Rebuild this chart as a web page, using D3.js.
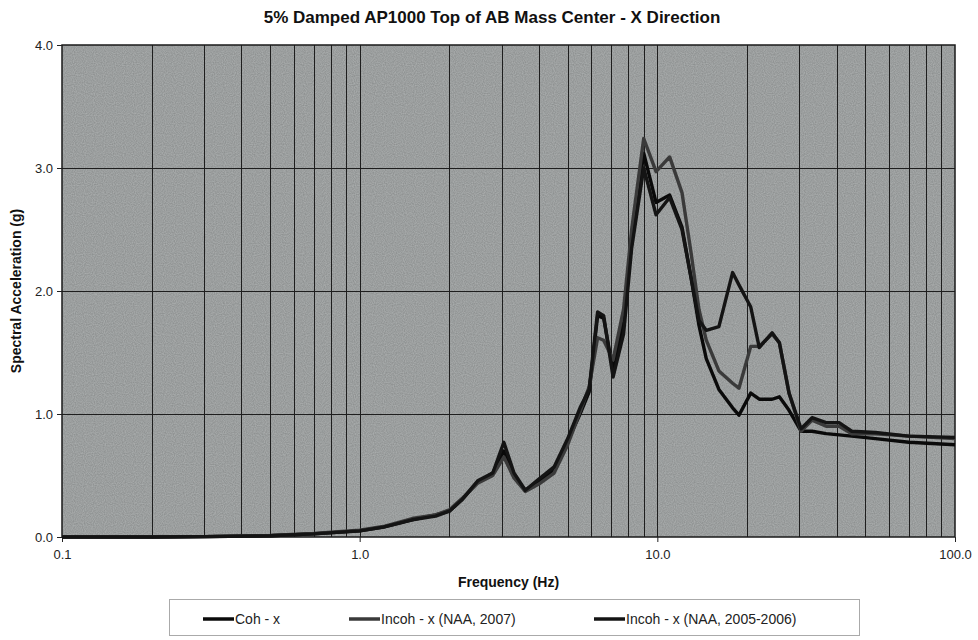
<!DOCTYPE html>
<html>
<head>
<meta charset="utf-8">
<script src="https://cdn.jsdelivr.net/npm/d3@7"></script>
<style>
    body { margin: 0; background: #ffffff; }
    svg { display: block; font-family: Arial, "Liberation Sans", sans-serif; }
    .axis path { display: none; }
    .axis line { stroke: #222; }
    .axis text { fill: #222; font-size: 13px; }
</style>
</head>
<body>
<div id="chart"></div>
<script>
// Frequencies (Hz) shared by the three spectra
var frequencies = [0.1, 0.2, 0.3, 0.5, 0.7, 1.0, 1.2, 1.5, 1.8, 2.0, 2.2, 2.5, 2.8, 3.05, 3.3, 3.6, 4.0, 4.5, 5.0, 5.5, 5.9,
    6.3, 6.6, 7.1, 7.7, 8.2, 9.0, 9.9, 11.0, 12.1, 13.0, 13.8, 14.6, 16.1, 17.9, 18.8, 20.6, 22.0, 24.3, 25.7, 27.7,
    30.4, 33.1, 36.9, 40.8, 45, 54, 70, 100];

// Spectral acceleration (g)
var cohX = [0, 0, 0.003, 0.01, 0.025, 0.05, 0.08, 0.14, 0.18, 0.21, 0.30, 0.45, 0.52, 0.70, 0.50, 0.38, 0.45, 0.55, 0.78, 1.0, 1.18,
    1.80, 1.78, 1.35, 1.75, 2.40, 3.12, 2.72, 2.78, 2.52, 2.10, 1.72, 1.45, 1.20, 1.05, 0.99, 1.17, 1.12, 1.12, 1.14, 1.03,
    0.86, 0.86, 0.84, 0.83, 0.82, 0.80, 0.77, 0.75];
var incohNaa2007 = [0, 0, 0.003, 0.012, 0.028, 0.055, 0.085, 0.15, 0.18, 0.22, 0.31, 0.44, 0.50, 0.65, 0.48, 0.37, 0.43, 0.52, 0.75, 1.02, 1.22,
    1.62, 1.60, 1.44, 1.85, 2.50, 3.24, 2.97, 3.09, 2.80, 2.30, 1.85, 1.60, 1.35, 1.25, 1.21, 1.55, 1.55, 1.65, 1.58, 1.17,
    0.86, 0.95, 0.90, 0.90, 0.84, 0.84, 0.82, 0.80];
var incohNaa2005 = [0, 0, 0.003, 0.01, 0.025, 0.05, 0.08, 0.14, 0.17, 0.21, 0.30, 0.46, 0.52, 0.77, 0.52, 0.38, 0.47, 0.57, 0.80, 1.05, 1.20,
    1.83, 1.80, 1.30, 1.65, 2.35, 3.00, 2.62, 2.76, 2.50, 2.10, 1.76, 1.68, 1.71, 2.15, 2.05, 1.87, 1.54, 1.66, 1.58, 1.17,
    0.88, 0.97, 0.93, 0.93, 0.86, 0.85, 0.82, 0.81];

var seriesNames = ["Coh - x", "Incoh - x (NAA, 2007)", "Incoh - x (NAA, 2005-2006)"];
var seriesValues = [cohX, incohNaa2007, incohNaa2005];
var seriesColors = ["#0a0a0a", "#3a3a3a", "#141414"];

var xTickValues = [0.1, 1, 10, 100];
var yTickValues = [0, 1, 2, 3, 4];

var width = 978, height = 640;
var margin = {top: 45, right: 23, bottom: 103, left: 62};

var svg = d3.select("#chart").append("svg")
    .attr("width", width)
    .attr("height", height);

// grainy scan texture for the plot area
var defs = svg.append("defs");
var grain = defs.append("filter").attr("id", "grain")
    .attr("x", 0).attr("y", 0).attr("width", 1).attr("height", 1);
grain.append("feTurbulence")
    .attr("type", "fractalNoise").attr("baseFrequency", 0.9)
    .attr("numOctaves", 1).attr("seed", 3).attr("result", "noise");
grain.append("feColorMatrix").attr("in", "noise").attr("type", "matrix")
    .attr("values", "0 0 0 0 0.5  0 0 0 0 0.52  0 0 0 0 0.52  0 0 0 1.4 -0.3")
    .attr("result", "tinted");
grain.append("feComposite").attr("in", "tinted").attr("in2", "SourceGraphic").attr("operator", "in");

var xScale = d3.scaleLog().domain([0.1, 100]).range([margin.left, width - margin.right]);
var yScale = d3.scaleLinear().domain([0, 4]).range([height - margin.bottom, margin.top]);

// plot background
var plotX = xScale(0.1), plotY = yScale(4);
var plotW = xScale(100) - xScale(0.1), plotH = yScale(0) - yScale(4);
svg.append("rect")
    .attr("x", plotX).attr("y", plotY)
    .attr("width", plotW).attr("height", plotH)
    .attr("fill", "#8f9292");
svg.append("rect")
    .attr("x", plotX).attr("y", plotY)
    .attr("width", plotW).attr("height", plotH)
    .attr("fill", "#8f9292")
    .attr("opacity", 0.7)
    .attr("filter", "url(#grain)");

// grid: every 1..9 per decade vertically, every 1.0 horizontally
var minorTicks = [];
d3.range(-1, 2).forEach(function (p) {
    d3.range(1, 10).forEach(function (m) {
        minorTicks.push(m * Math.pow(10, p));
    });
});
svg.append("g").selectAll("line").data(minorTicks.filter(function (d) { return d > 0.1; }))
    .enter().append("line")
    .attr("x1", function (d) { return Math.round(xScale(d)) + 0.5; })
    .attr("x2", function (d) { return Math.round(xScale(d)) + 0.5; })
    .attr("y1", yScale(4))
    .attr("y2", yScale(0))
    .attr("stroke", "#1e1e1e")
    .attr("stroke-width", 1);
svg.append("g").selectAll("line").data([1, 2, 3])
    .enter().append("line")
    .attr("x1", xScale(0.1))
    .attr("x2", xScale(100))
    .attr("y1", function (d) { return Math.round(yScale(d)) + 0.5; })
    .attr("y2", function (d) { return Math.round(yScale(d)) + 0.5; })
    .attr("stroke", "#1e1e1e")
    .attr("stroke-width", 1);

// plot border
svg.append("rect")
    .attr("x", plotX).attr("y", plotY)
    .attr("width", plotW).attr("height", plotH)
    .attr("fill", "none")
    .attr("stroke", "#1a1a1a")
    .attr("stroke-width", 1.5);

// axes
var xAxis = d3.axisBottom(xScale).tickValues(xTickValues).tickSize(5).tickPadding(8)
    .tickFormat(d3.format(".1f"));
var yAxis = d3.axisLeft(yScale).tickValues(yTickValues).tickSize(5).tickPadding(4)
    .tickFormat(d3.format(".1f"));
svg.append("g").attr("class", "axis x-axis")
    .attr("transform", "translate(0," + yScale(0) + ")")
    .call(xAxis);
svg.append("g").attr("class", "axis y-axis")
    .attr("transform", "translate(" + xScale(0.1) + ",0)")
    .call(yAxis);

// spectra
var line = d3.line()
    .x(function (d) { return xScale(d[0]); })
    .y(function (d) { return yScale(d[1]); });
seriesValues.forEach(function (vals, i) {
    svg.append("path")
        .datum(frequencies.map(function (f, j) { return [f, vals[j]]; }))
        .attr("d", line)
        .attr("fill", "none")
        .attr("stroke", seriesColors[i])
        .attr("stroke-width", 3.4)
        .attr("stroke-linejoin", "round");
});

// titles
svg.append("text")
    .attr("x", 492).attr("y", 23)
    .attr("text-anchor", "middle")
    .attr("font-size", 17).attr("font-weight", "bold").attr("fill", "#111")
    .text("5% Damped AP1000 Top of AB Mass Center - X Direction");
svg.append("text")
    .attr("x", (xScale(0.1) + xScale(100)) / 2).attr("y", 587)
    .attr("text-anchor", "middle")
    .attr("font-size", 14).attr("font-weight", "bold").attr("fill", "#111")
    .text("Frequency (Hz)");
svg.append("text")
    .attr("transform", "translate(21," + yScale(2) + ") rotate(-90)")
    .attr("text-anchor", "middle")
    .attr("font-size", 14).attr("font-weight", "bold").attr("fill", "#111")
    .text("Spectral Acceleration (g)");

// legend
var legend = svg.append("g").attr("class", "legend");
legend.append("rect")
    .attr("x", 169.5).attr("y", 599.5)
    .attr("width", 690).attr("height", 36)
    .attr("fill", "#fff").attr("stroke", "#aaa");
var legendX = [203, 349, 594];
seriesNames.forEach(function (name, i) {
    legend.append("line")
        .attr("x1", legendX[i]).attr("x2", legendX[i] + 31)
        .attr("y1", 619).attr("y2", 619)
        .attr("stroke", seriesColors[i]).attr("stroke-width", 3.5);
    legend.append("text")
        .attr("x", legendX[i] + 32).attr("y", 624)
        .attr("font-size", 14).attr("fill", "#222")
        .text(name);
});
</script>
</body>
</html>
